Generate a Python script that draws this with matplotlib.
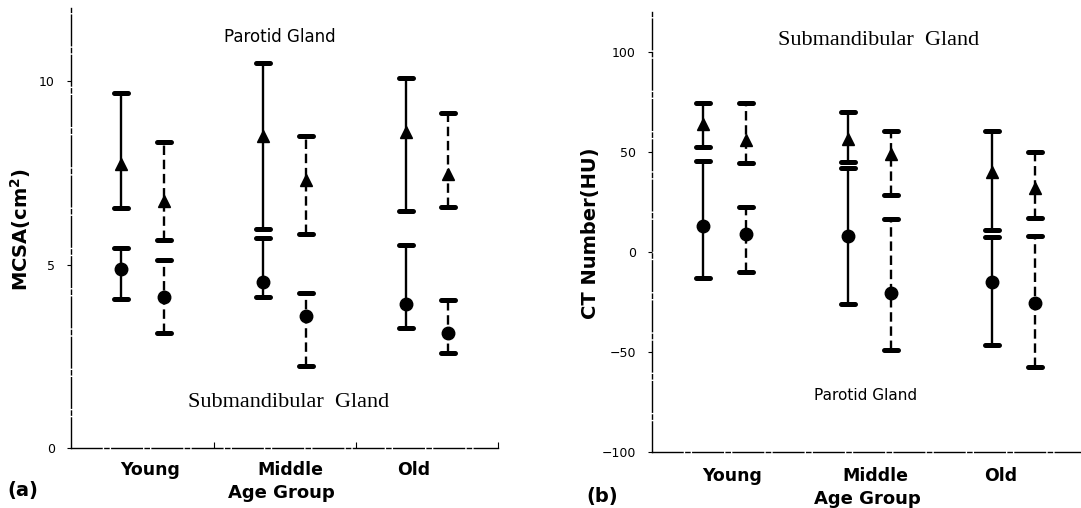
import numpy as np
import matplotlib
matplotlib.use("Agg")
import matplotlib.pyplot as plt
from matplotlib.markers import MarkerStyle

groups = ["Young", "Middle", "Old"]

# (a) MCSA (cm^2): triangles = parotid, circles = submandibular
a_par_solid = [7.76, 8.52, 8.61]
a_par_solid_lo = [6.55, 5.99, 6.46]
a_par_solid_hi = [9.68, 10.50, 10.09]
a_par_dash = [6.75, 7.32, 7.48]
a_par_dash_lo = [5.68, 5.84, 6.57]
a_par_dash_hi = [8.36, 8.52, 9.13]
a_sub_solid = [4.89, 4.54, 3.94]
a_sub_solid_lo = [4.07, 4.11, 3.29]
a_sub_solid_hi = [5.45, 5.73, 5.54]
a_sub_dash = [4.11, 3.61, 3.15]
a_sub_dash_lo = [3.15, 2.24, 2.60]
a_sub_dash_hi = [5.13, 4.23, 4.03]

# (b) CT number (HU): triangles = submandibular, circles = parotid
b_sub_solid = [63.8, 56.7, 40.0]
b_sub_solid_lo = [52.5, 45.0, 10.8]
b_sub_solid_hi = [74.7, 70.0, 60.3]
b_sub_dash = [56.2, 49.2, 31.7]
b_sub_dash_lo = [44.5, 28.3, 16.7]
b_sub_dash_hi = [74.7, 60.5, 50.0]
b_par_solid = [12.8, 7.8, -15.3]
b_par_solid_lo = [-13.0, -26.3, -46.7]
b_par_solid_hi = [45.5, 41.7, 7.2]
b_par_dash = [8.7, -20.8, -25.5]
b_par_dash_lo = [-10.3, -49.2, -57.5]
b_par_dash_hi = [22.2, 16.2, 7.8]

centers = np.arange(len(groups)) + 0.5
label_pos = centers + np.array([0.05, 0.04, -0.09])
off = 0.15


def draw(ax, x, mean, lo, hi, marker, dashed):
    mean = np.array(mean)
    err = [mean - np.array(lo), np.array(hi) - mean]
    eb = ax.errorbar(x, mean, yerr=err, fmt=marker, color="black", ms=9,
                     elinewidth=1.7, capsize=5, capthick=3.6, linestyle="none")
    for c in eb[1]:
        c.set_marker(MarkerStyle("_", capstyle="round"))
    if dashed:
        eb[2][0].set_linestyle((0, (4, 2)))


def style(ax):
    for s in ["top", "right"]:
        ax.spines[s].set_visible(False)
    for s in ["left", "bottom"]:
        ax.spines[s].set_linewidth(1.0)
        ax.spines[s].set_linestyle((0, (22, 2, 3, 2)))
    ax.tick_params(axis="y", direction="out", length=3, width=0.8, labelsize=9, pad=9)
    ax.set_xticks(label_pos)
    ax.set_xticklabels(groups, fontsize=12.5, fontweight="bold")


fig = plt.figure(figsize=(10.81, 5.08), dpi=100)

ax1 = fig.add_axes([0.0661, 0.1175, 0.3946, 0.8668])
draw(ax1, centers - off, a_par_solid, a_par_solid_lo, a_par_solid_hi, "^", False)
draw(ax1, centers + off, a_par_dash, a_par_dash_lo, a_par_dash_hi, "^", True)
draw(ax1, centers - off, a_sub_solid, a_sub_solid_lo, a_sub_solid_hi, "o", False)
draw(ax1, centers + off, a_sub_dash, a_sub_dash_lo, a_sub_dash_hi, "o", True)
ax1.set_xlim(0, 3)
ax1.set_ylim(0, 12)
ax1.set_yticks([0, 5, 10])
style(ax1)
ax1.tick_params(axis="x", length=0, pad=9)
ax1.set_xticks([1, 2, 3], minor=True)
ax1.tick_params(axis="x", which="minor", direction="in", length=4, width=0.8)
ax1.set_ylabel("MCSA(cm$^{\\mathbf{2}}$)", fontsize=14, fontweight="bold")
ax1.yaxis.set_label_coords(-0.091, 0.496)
ax1.set_xlabel("Age Group", fontsize=13, fontweight="bold", va="top")
ax1.xaxis.set_label_coords(0.491, -0.081)
ax1.text(1.467, 11.2, "Parotid Gland", fontsize=12, ha="center", va="center")
ax1.text(1.53, 1.26, "Submandibular  Gland", fontsize=16, family="Liberation Serif",
         ha="center", va="center")

ax2 = fig.add_axes([0.6036, 0.1108, 0.3957, 0.8656])
draw(ax2, centers - off, b_sub_solid, b_sub_solid_lo, b_sub_solid_hi, "^", False)
draw(ax2, centers + off, b_sub_dash, b_sub_dash_lo, b_sub_dash_hi, "^", True)
draw(ax2, centers - off, b_par_solid, b_par_solid_lo, b_par_solid_hi, "o", False)
draw(ax2, centers + off, b_par_dash, b_par_dash_lo, b_par_dash_hi, "o", True)
ax2.set_xlim(0, 2.96)
ax2.set_ylim(-100, 120)
ax2.set_yticks([-100, -50, 0, 50, 100])
style(ax2)
ax2.tick_params(axis="x", length=0, pad=11)
ax2.set_ylabel("CT Number(HU)", fontsize=14, fontweight="bold")
ax2.yaxis.set_label_coords(-0.123, 0.497)
ax2.set_xlabel("Age Group", fontsize=13, fontweight="bold", va="top")
ax2.xaxis.set_label_coords(0.503, -0.086)
ax2.text(1.567, 105.85, "Submandibular  Gland", fontsize=16, family="Liberation Serif",
         ha="center", va="center")
ax2.text(1.477, -72, "Parotid Gland", fontsize=11, ha="center", va="center")

fig.text(0.0065, 0.034, "(a)", fontsize=14, fontweight="bold", va="center")
fig.text(0.5427, 0.022, "(b)", fontsize=14, fontweight="bold", va="center")

fig.savefig("out.png", dpi=100)
